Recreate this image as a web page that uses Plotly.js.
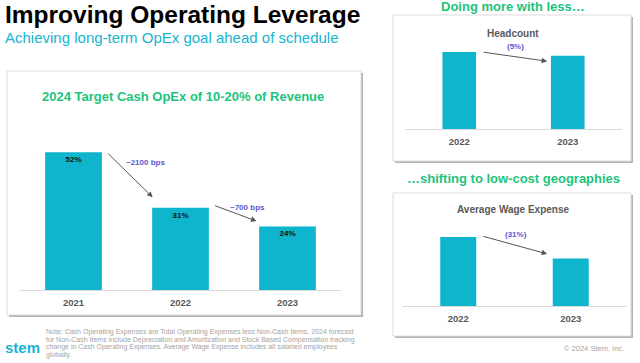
<!DOCTYPE html>
<html>
<head>
<meta charset="utf-8">
<script src="https://cdn.plot.ly/plotly-3.0.1.min.js"></script>
<style>html,body{margin:0;padding:0;background:#fff;}#chart{width:640px;height:363px;}</style>
</head>
<body>
<div id="chart"></div>
<script>
// ---- data ----
const opexYears = ['2021', '2022', '2023'];
const opexPct = [52, 31, 24];
const opexChanges = ['~2100 bps', '~700 bps'];

const headYears = ['2022', '2023'];
const headcountIndex = [100, 95];
const headChange = '(5%)';

const wageYears = ['2022', '2023'];
const wageIndex = [100, 69];
const wageChange = '(31%)';

// ---- style ----
const W = 640, H = 363;
const BAR = '#0fb4cd';
const GREEN = '#1cc47c';
const TEAL = '#17b4d0';
const PURPLE = '#5a5ad2';
const GRAY = '#595959';
const FONT = 'Liberation Sans, Arial, sans-serif';
const px = v => v / W;
const py = v => 1 - v / H;

const traces = [
  {type: 'bar', x: opexYears, y: opexPct, xaxis: 'x', yaxis: 'y', width: 0.53,
   marker: {color: BAR}, text: opexPct.map(v => '<b>' + v + '%</b>'),
   textposition: 'inside', insidetextanchor: 'end', constraintext: 'none',
   textfont: {family: FONT, size: 8, color: '#111'}, hoverinfo: 'skip'},
  {type: 'bar', x: headYears, y: headcountIndex, xaxis: 'x2', yaxis: 'y2', width: 0.31,
   marker: {color: BAR}, hoverinfo: 'skip'},
  {type: 'bar', x: wageYears, y: wageIndex, xaxis: 'x3', yaxis: 'y3', width: 0.32,
   marker: {color: BAR}, hoverinfo: 'skip'}
];

function xax(d) {
  return {domain: [px(d[0]), px(d[1])], type: 'category', showline: true,
    linecolor: '#d9d9d9', linewidth: 1, ticks: '', showgrid: false, zeroline: false,
    tickfont: {family: FONT, size: 9.5, color: GRAY, weight: 'bold'}, ticklabelstandoff: 4,
    fixedrange: true};
}
function yax(d, r) {
  return {domain: [py(d[1]), py(d[0])], range: r, visible: false, showgrid: false,
    zeroline: false, fixedrange: true};
}

function box(x0, y0, x1, y1) {
  return [
    {type: 'rect', xref: 'paper', yref: 'paper', layer: 'below',
     x0: px(x0 + 2), x1: px(x1 + 2), y0: py(y1 + 2), y1: py(y0 + 2),
     fillcolor: '#b5b5b5', line: {width: 0}},
    {type: 'rect', xref: 'paper', yref: 'paper', layer: 'below',
     x0: px(x0), x1: px(x1), y0: py(y1), y1: py(y0),
     fillcolor: '#ffffff', line: {color: '#dcdcdc', width: 1}}
  ];
}

function txt(text, x, y, size, color, opts) {
  return Object.assign({xref: 'paper', yref: 'paper', x: px(x), y: py(y),
    xanchor: 'center', yanchor: 'middle', showarrow: false, text: text,
    font: {family: FONT, size: size, color: color}}, opts || {});
}

function arrow(xr, yr, x0, y0, x1, y1) {
  return {xref: xr, yref: yr, axref: xr, ayref: yr, x: x1, y: y1, ax: x0, ay: y0,
    text: '', showarrow: true, arrowhead: 2, arrowsize: 1.1, arrowwidth: 1,
    arrowcolor: '#555555', standoff: 0, startstandoff: 0};
}
function label(xr, yr, x, y, t) {
  return {xref: xr, yref: yr, x: x, y: y, text: '<b>' + t + '</b>', showarrow: false,
    xanchor: 'center', yanchor: 'middle', font: {family: FONT, size: 8, color: PURPLE}};
}

const noteLines = [
  'Note: Cash Operating Expenses are Total Operating Expenses less Non-Cash Items. 2024 forecast',
  'for Non-Cash Items include Depreciation and Amortization and Stock Based Compensation tracking',
  'change in Cash Operating Expenses. Average Wage Expense includes all salaried employees',
  'globally.'
];

const annotations = [
  txt('<b>Improving Operating Leverage</b>', 3, 15, 24.5, '#000', {xanchor: 'left'}),
  txt('Achieving long-term OpEx goal ahead of schedule', 3, 37, 15, TEAL, {xanchor: 'left'}),
  txt('<b>2024 Target Cash OpEx of 10-20% of Revenue</b>', 183, 96, 13, GREEN),
  txt('<b>Doing more with less…</b>', 513, 7, 13, GREEN),
  txt('<b>…shifting to low-cost geographies</b>', 513, 178, 13, GREEN),
  txt('<b>Headcount</b>', 513, 33, 10, GRAY),
  txt('<b>Average Wage Expense</b>', 513, 209, 10, GRAY),
  txt('<b>stem</b>', 3, 347, 15, TEAL, {xanchor: 'left'}),
  txt('© 2024 Stem, Inc.', 626, 348, 7.5, '#a6a6a6', {xanchor: 'right'}),
  // left chart arrows
  arrow('x', 'y', 0.31, opexPct[0], 0.74, opexPct[1] + 4),
  label('x', 'y', 0.67, opexPct[0] - 4, opexChanges[0]),
  arrow('x', 'y', 1.31, opexPct[1] + 1, 1.71, opexPct[2] + 2),
  label('x', 'y', 1.63, opexPct[1], opexChanges[1]),
  // headcount
  arrow('x2', 'y2', 0.21, headcountIndex[0], 0.81, headcountIndex[1] - 7),
  label('x2', 'y2', 0.52, headcountIndex[0] + 6.5, headChange),
  // wage
  arrow('x3', 'y3', 0.21, wageIndex[0] + 1.5, 0.79, wageIndex[1] + 6.5),
  label('x3', 'y3', 0.51, wageIndex[0] + 3, wageChange)
];
noteLines.forEach((l, i) => {
  annotations.push(txt(l, 44, 332 + i * 7.7, 7, '#a3a3a3', {xanchor: 'left'}));
});

const layout = {
  width: W, height: H, margin: {l: 0, r: 0, t: 0, b: 0},
  paper_bgcolor: '#ffffff', plot_bgcolor: 'rgba(0,0,0,0)',
  showlegend: false, font: {family: FONT},
  xaxis: Object.assign(xax([20, 341]), {anchor: 'y'}),
  yaxis: Object.assign(yax([131, 290], [0, 60]), {anchor: 'x'}),
  xaxis2: Object.assign(xax([405, 622]), {anchor: 'y2'}),
  yaxis2: Object.assign(yax([44.3, 129], [0, 110]), {anchor: 'x2'}),
  xaxis3: Object.assign(xax([402, 627]), {anchor: 'y3'}),
  yaxis3: Object.assign(yax([216.3, 306], [0, 130]), {anchor: 'x3'}),
  shapes: [].concat(box(7, 71, 361, 315), box(393, 15, 631, 161), box(393, 193, 631, 336)),
  annotations: annotations
};

Plotly.newPlot('chart', traces, layout, {displayModeBar: false, staticPlot: true});
</script>
</body>
</html>
